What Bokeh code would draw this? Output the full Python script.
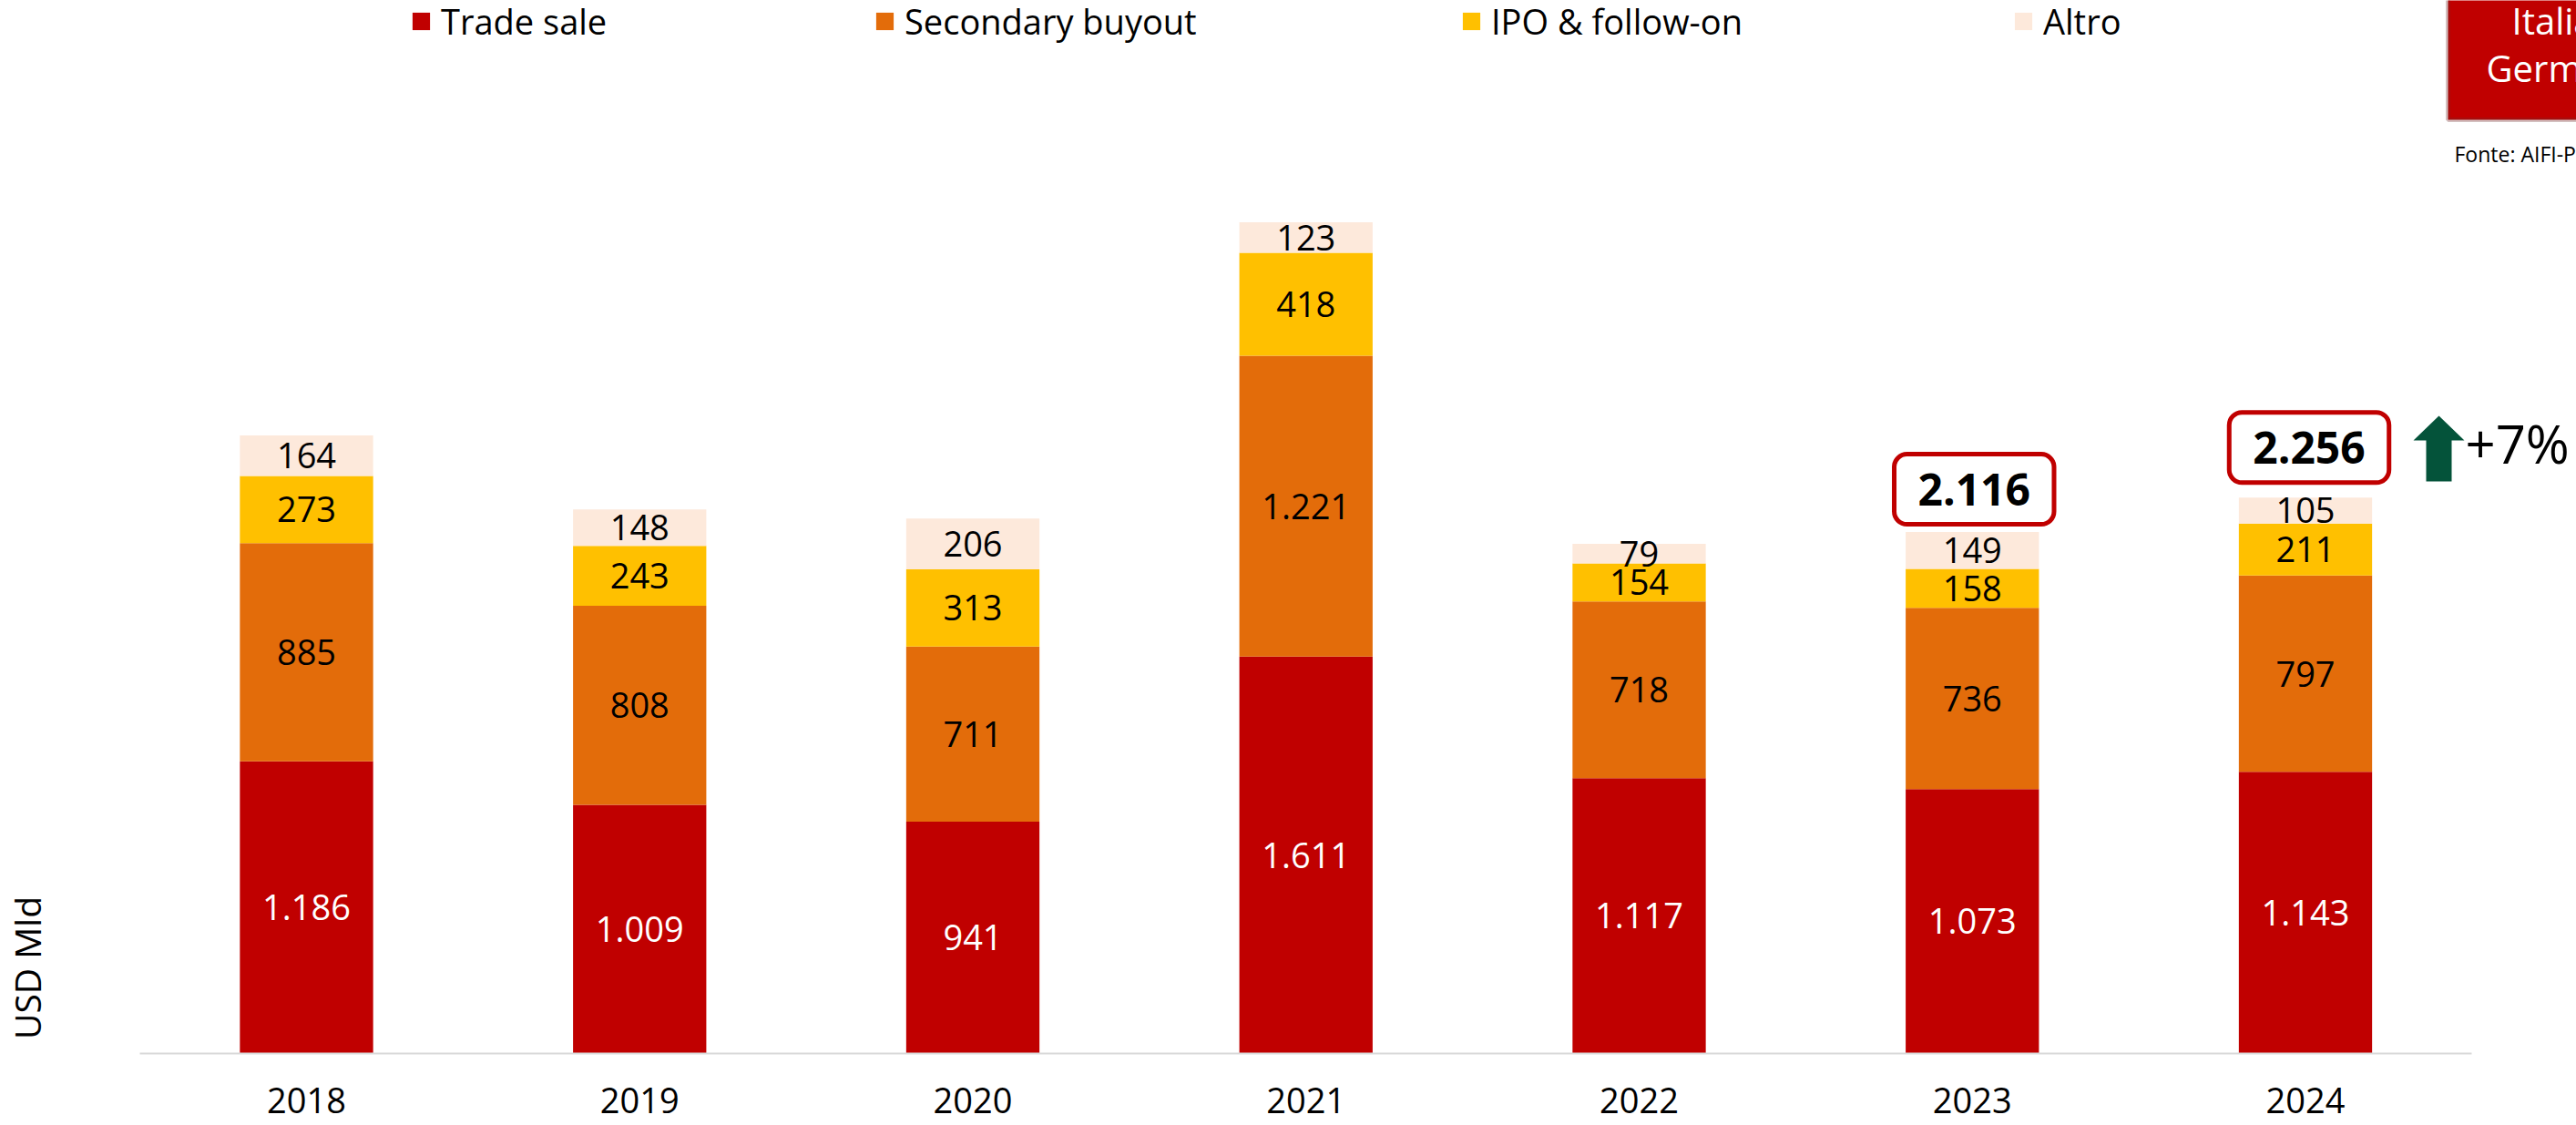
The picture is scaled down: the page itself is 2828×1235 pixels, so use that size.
from bokeh.plotting import figure
from bokeh.models import (ColumnDataSource, Range1d, FixedTicker, Legend, LegendItem,
                          Label, BoxAnnotation)
from bokeh.embed import file_html
from bokeh.resources import INLINE
from bokeh.core.properties import value
import math

# ---------------- data ----------------
years = [2018, 2019, 2020, 2021, 2022, 2023, 2024]
year_labels = ["2018", "2019", "2020", "2021", "2022", "2023", "2024"]
trade_sale = [1186, 1009, 941, 1611, 1117, 1073, 1143]
secondary_buyout = [885, 808, 711, 1221, 718, 736, 797]
ipo_follow_on = [273, 243, 313, 418, 154, 158, 211]
altro = [164, 148, 206, 123, 79, 149, 105]
series_names = ["Trade sale", "Secondary buyout", "IPO & follow-on", "Altro"]
series_colors = ["#C00000", "#E36C0A", "#FFC000", "#FDE9DB"]
label_colors = ["white", "black", "black", "black"]
highlight_years = [2023, 2024]
y_axis_title = "USD Mld"
box_lines = ["Italia", "Germania"]
source_note = "Fonte: AIFI-PwC"

# ---------------- layout constants ----------------
FONT = "Open Sans"
W, FH = 2828, 1156          # frame size in px
XPX = 365.75                # px per category
YPX = 0.2705                # px per USD Mld
X0 = years[0] - 336 / XPX
X1 = X0 + W / XPX
Y1 = FH / YPX

def px_x(px):   # page px -> data x
    return X0 + px / XPX

def px_y(py):   # page px -> data y
    return (FH - py) / YPX

def fmt(v):
    return f"{v:,}".replace(",", ".")

series = [trade_sale, secondary_buyout, ipo_follow_on, altro]
keys = ["s0", "s1", "s2", "s3"]
data = {"year": years}
for k, s in zip(keys, series):
    data[k] = s
src = ColumnDataSource(data)

totals = [sum(vals) for vals in zip(*series)]

p = figure(frame_width=W, frame_height=FH, x_range=Range1d(X0, X1), y_range=Range1d(0, Y1),
           output_backend="svg", toolbar_location=None, y_axis_location=None,
           min_border=0, min_border_left=0, min_border_right=0, min_border_top=0,
           min_border_bottom=79,
           outline_line_color=None, background_fill_color="white", border_fill_color="white")
p.xgrid.visible = False
p.ygrid.visible = False

renderers = p.vbar_stack(keys, x="year", width=0.4, color=series_colors, line_color=None, source=src)

# segment labels
lx, ly, lt, lc = [], [], [], []
for i, yr in enumerate(years):
    bottom = 0
    for si, s in enumerate(series):
        v = s[i]
        lx.append(yr)
        ly.append(bottom + v / 2)
        lt.append(fmt(v))
        lc.append(label_colors[si])
        bottom += v
lab_src = ColumnDataSource(dict(x=lx, y=ly, text=lt, color=lc))
p.text(x="x", y="y", text="text", text_color="color", source=lab_src,
       text_align="center", text_baseline="middle",
       text_font=value(FONT), text_font_size="38px")

# x axis
ax = p.xaxis[0]
ax.ticker = FixedTicker(ticks=years)
ax.major_label_overrides = {y: l for y, l in zip(years, year_labels)}
ax.bounds = (years[0] - 0.5, years[-1] + 0.5)
ax.axis_line_color = "#D9D9D9"
ax.axis_line_width = 2
ax.major_tick_line_color = None
ax.minor_tick_line_color = None
ax.major_label_text_font = FONT
ax.major_label_text_font_size = "38px"
ax.major_label_text_color = "black"
ax.major_label_standoff = 31

# legends (one per item to match spacing)
leg_x = [450, 959, 1603, 2209]
for r, name, lxp in zip(renderers, series_names, leg_x):
    lg = Legend(items=[LegendItem(label=name, renderers=[r])], location=(lxp, FH - 49),
                orientation="horizontal", padding=0, margin=0, spacing=0,
                glyph_width=24, glyph_height=24, label_standoff=10, label_height=24,
                label_text_font=FONT, label_text_font_size="38px", label_text_color="black",
                border_line_color=None, background_fill_alpha=0)
    p.add_layout(lg)

# highlighted totals
offsets = {2023: (2, 47), 2024: (4, 55)}
for yr in highlight_years:
    i = years.index(yr)
    dx, dy = offsets[yr]
    p.add_layout(Label(x=yr, y=totals[i], x_offset=dx, y_offset=dy, text=fmt(totals[i]),
                       text_font=FONT, text_font_style="bold", text_font_size="48px",
                       text_color="black", text_align="center", text_baseline="middle",
                       border_line_color="#C00000", border_line_width=5,
                       background_fill_color="white",
                       padding=dict(left=26, right=26, top=21, bottom=21), border_radius=14))

# growth arrow and text
ax_px = [2663, 2663, 2649, 2677, 2705, 2691, 2691]
ay_px = [528, 483, 483, 456, 483, 483, 528]
p.patch([px_x(v) for v in ax_px], [px_y(v) for v in ay_px], color="#04533A", line_color=None)
growth = totals[-1] / totals[-2] - 1
p.add_layout(Label(x=px_x(2706), y=px_y(486), text=f"+{round(growth * 100)}%",
                   text_font=FONT, text_font_size="58px", text_color="black",
                   text_align="left", text_baseline="middle"))

# top-right box
p.add_layout(BoxAnnotation(left=px_x(2687), right=px_x(2900), bottom=px_y(131), top=px_y(-30),
                           fill_color="#C00000", fill_alpha=1, line_color="#6E2B2B", line_width=5))
p.add_layout(Label(x=px_x(2757), y=px_y(22), text=box_lines[0], text_font=FONT,
                   text_font_size="40px", text_color="white", text_align="left", text_baseline="middle"))
p.add_layout(Label(x=px_x(2729), y=px_y(74), text=box_lines[1], text_font=FONT,
                   text_font_size="40px", text_color="white", text_align="left", text_baseline="middle"))
p.add_layout(Label(x=px_x(2694), y=px_y(168), text=source_note, text_font=FONT,
                   text_font_size="23px", text_color="black", text_align="left",
                   text_baseline="alphabetic"))

# y axis title
p.add_layout(Label(x=px_x(29), y=px_y(1062), text=y_axis_title, angle=math.pi / 2,
                   text_font=FONT, text_font_size="39px", text_color="black",
                   text_align="center", text_baseline="middle"))

open("out.html", "w").write(file_html(p, INLINE))
